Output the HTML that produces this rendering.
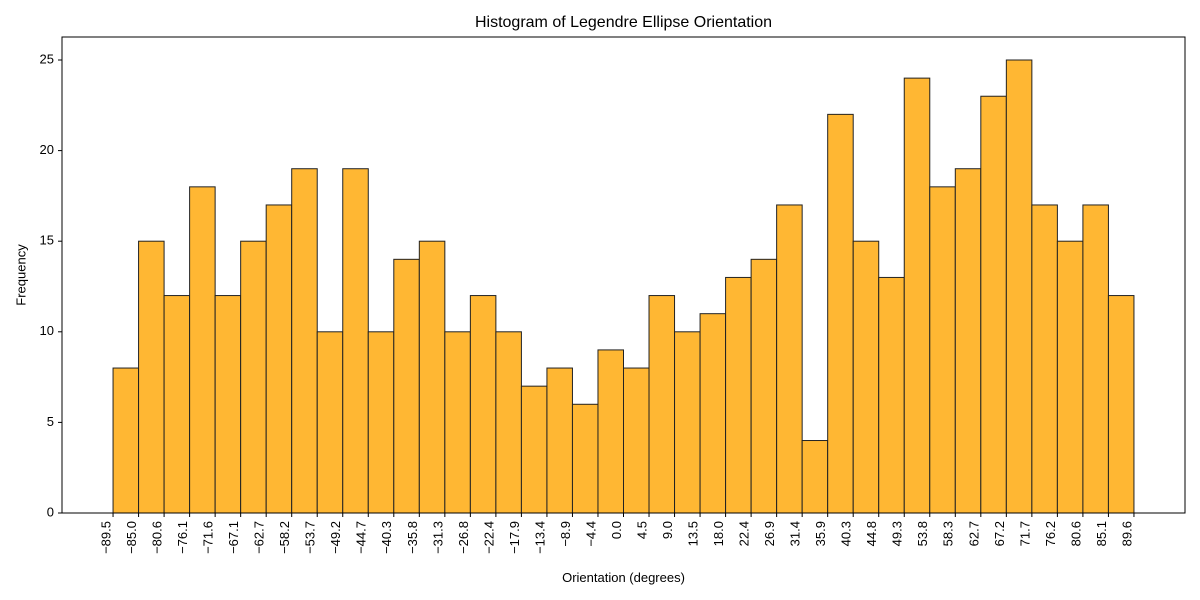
<!DOCTYPE html>
<html><head><meta charset="utf-8"><style>
html,body{margin:0;background:#fff;width:1200px;height:600px;overflow:hidden}
svg{font-family:"Liberation Sans","DejaVu Sans",sans-serif;position:absolute;left:0;top:0}
</style></head><body>
<svg id="c" width="1200" height="600"></svg>
<script>
const counts=[8,15,12,18,12,15,17,19,10,19,10,14,15,10,12,10,7,8,6,9,8,12,10,11,13,14,17,4,22,15,13,24,18,19,23,25,17,15,17,12];
const edgeLabels=["−89.5","−85.0","−80.6","−76.1","−71.6","−67.1","−62.7","−58.2","−53.7","−49.2","−44.7","−40.3","−35.8","−31.3","−26.8","−22.4","−17.9","−13.4","−8.9","−4.4","0.0","4.5","9.0","13.5","18.0","22.4","26.9","31.4","35.9","40.3","44.8","49.3","53.8","58.3","62.7","67.2","71.7","76.2","80.6","85.1","89.6"];
const yTicks=[0,5,10,15,20,25];
const xMin=-89.5,xMax=89.6;
const L=62,R=1185,T=37,B=513;
const bw=(xMax-xMin)/counts.length;
const d0=xMin-2*bw,d1=xMax+2*bw;
const sx=v=>L+(v-d0)/(d1-d0)*(R-L);
const sy=v=>B-v*(B-60)/25;
const svg=document.getElementById('c');
const NS='http://www.w3.org/2000/svg';
function mk(tag,attrs,parent){const e=document.createElementNS(NS,tag);for(const k in attrs)e.setAttribute(k,attrs[k]);(parent||svg).appendChild(e);return e;}
counts.forEach((c,i)=>{
  const x0=sx(xMin+i*bw),x1=sx(xMin+(i+1)*bw);
  const r=mk('rect',{x:x0,y:sy(c),width:x1-x0,height:sy(0)-sy(c),fill:'#ffb733',stroke:'#222','stroke-width':1});
  
  
});
const ax=mk('rect',{x:L,y:T,width:R-L,height:B-T,fill:'none',stroke:'#000','stroke-width':1});


edgeLabels.forEach((lab,i)=>{
  const x=sx(xMin+i*bw);
  mk('line',{x1:x,x2:x,y1:B,y2:B+4,stroke:'#000'});
  const t=mk('text',{x:0,y:0,transform:`translate(${x-6},${B+8}) rotate(-90)`,'text-anchor':'end','dominant-baseline':'middle','font-size':13});
  t.textContent=lab;
  
  
});
yTicks.forEach(v=>{
  const y=sy(v);
  mk('line',{x1:L-4,x2:L,y1:y,y2:y,stroke:'#000'});
  const t=mk('text',{x:L-8,y:y,'text-anchor':'end','dominant-baseline':'middle','font-size':13});
  t.textContent=v;
  
  
});
</script>
<div style="position:absolute;left:0;top:0;width:1200px;height:600px;pointer-events:none;font-family:'Liberation Sans',sans-serif">
<div style="position:absolute;top:14px;left:62px;width:1123px;text-align:center;font-size:16px">Histogram of Legendre Ellipse Orientation</div>
<div style="position:absolute;top:570px;left:62px;width:1123px;text-align:center;font-size:13px">Orientation (degrees)</div>
<div style="position:absolute;left:21px;top:275px;transform:translate(-50%,-50%) rotate(-90deg);font-size:13px;white-space:nowrap">Frequency</div>
</div>
</body></html>
